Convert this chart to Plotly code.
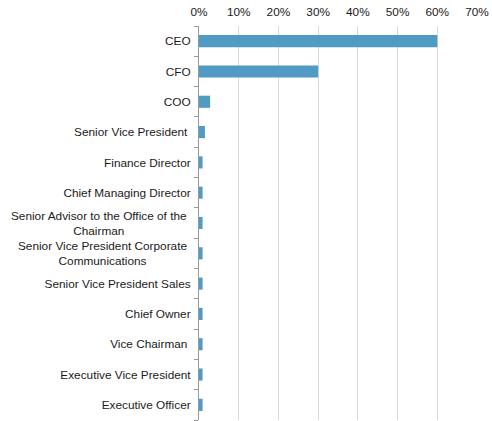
import plotly.graph_objects as go

categories = ["CEO", "CFO", "COO", "Senior Vice President ", "Finance Director",
              "Chief Managing Director", "Senior Advisor to the Office of the<br>Chairman",
              "Senior Vice President Corporate<br>Communications", "Senior Vice President Sales",
              "Chief Owner", "Vice Chairman ", "Executive Vice President", "Executive Officer"]
values = [0.60, 0.30, 0.028, 0.015, 0.009, 0.009, 0.009, 0.009, 0.009, 0.009, 0.009, 0.009, 0.009]

multi = [c for c in categories if "<br>" in c]
ticktext = ["" if c in multi else c for c in categories]

fig = go.Figure(go.Bar(
    x=values, y=categories, orientation="h",
    marker=dict(color="#4F9BC4", line=dict(width=0)), width=0.4,
))
for c in multi:
    fig.add_annotation(text=c, x=-0.035, xref="paper", y=c, yref="y",
                       xanchor="right", yanchor="middle", align="center",
                       showarrow=False, font=dict(size=11.8, color="#1a1a1a"))
fig.update_layout(
    width=492, height=421,
    margin=dict(l=199, r=15, t=26, b=1, autoexpand=False),
    plot_bgcolor="white", paper_bgcolor="white",
    font=dict(family="Liberation Sans, Arial, sans-serif", size=11.8, color="#1a1a1a"),
    showlegend=False,
)
fig.update_xaxes(
    range=[0, 0.7], dtick=0.1, tickformat=".0%", side="top",
    showgrid=True, gridcolor="#d9d9d9", gridwidth=1,
    zeroline=False, showline=False, ticks="", automargin=False,
    ticklabelstandoff=7,
)
fig.update_yaxes(
    autorange="reversed", showline=True, linecolor="#999999", linewidth=1,
    ticks="outside", tickson="boundaries", tickcolor="#999999", ticklen=4,
    showgrid=False, ticklabelstandoff=5, automargin=False,
    tickmode="array", tickvals=categories, ticktext=ticktext,
)
fig.write_html("out.html", config={"displayModeBar": False},
               post_script="document.body.style.margin='0px';")
